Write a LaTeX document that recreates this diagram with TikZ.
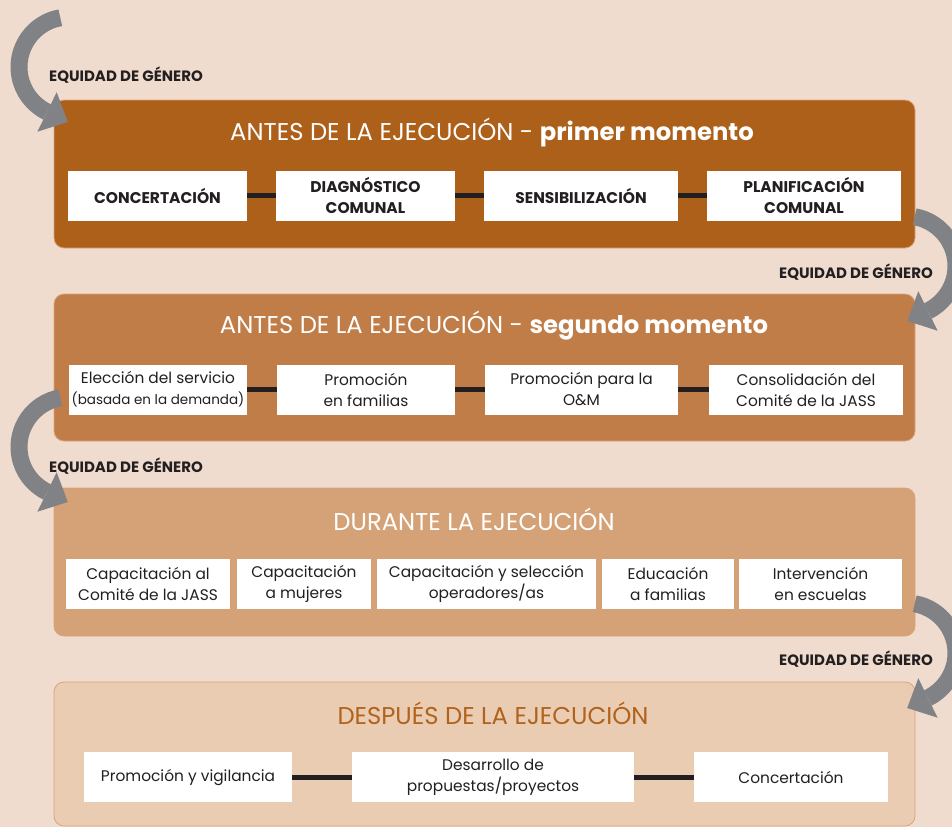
\documentclass[tikz,border=0pt]{standalone}
\usepackage{fontspec}
\setmainfont{Poppins}
\usetikzlibrary{positioning}
\definecolor{bgbeige}{HTML}{EFDCCE}
\definecolor{panelone}{HTML}{AD601A}
\definecolor{paneltwo}{HTML}{C07D48}
\definecolor{panelthree}{HTML}{D4A276}
\definecolor{panelfour}{HTML}{E9CCB2}
\definecolor{paneledge}{HTML}{D9A47C}
\definecolor{arrowgray}{HTML}{808285}
\definecolor{inkdark}{HTML}{231F20}
\definecolor{titlebrown}{HTML}{B1621C}
\tikzset{
  genderarrow/.pic={
    \draw[arrowgray, line width=17pt] (-100:50) arc[start angle=-100, end angle=-244, radius=50];
    \fill[arrowgray] (-12.3,25.2) -- (-31.6,64.7) -- (-1.2,55.0) -- cycle;
  }
}
\begin{document}
\begin{tikzpicture}[x=1pt, y=-1pt,
  panel/.style={draw=paneledge, line width=0.8pt, rounded corners=10pt},
  paneltitle/.style={font=\fontsize{24.3}{28}\selectfont, text=white, inner sep=0pt},
  stepbox/.style={fill=white, inner sep=0pt, align=center, text=inkdark, minimum height=50pt},
  capsbox/.style={stepbox, font=\fontsize{15.5}{21}\selectfont\bfseries},
  textbox/.style={stepbox, font=\fontsize{15.4}{21}\selectfont},
  link/.style={draw=inkdark, line width=5pt},
  genero/.style={font=\fontsize{15}{17}\selectfont\bfseries, text=inkdark, inner sep=0pt}]
\useasboundingbox (0,0) rectangle (952,827);
\fill[bgbeige] (0,0) rectangle (952,827);

\draw[panel, fill=panelone] (54,100) rectangle (915,248);
\draw[panel, fill=paneltwo] (54,294) rectangle (915,441);
\draw[panel, fill=panelthree] (54,488) rectangle (915,636);
\draw[panel, fill=panelfour] (54,682) rectangle (915,826);

\node[paneltitle] (titleone) at (492,132) {ANTES DE LA EJECUCIÓN - \textbf{primer momento}};
\node[capsbox, minimum width=179pt] (concert) at (157.5,195.5) {CONCERTACIÓN};
\node[capsbox, minimum width=179pt] (diagnos) at (365.5,195.5) {DIAGNÓSTICO\\COMUNAL};
\node[capsbox, minimum width=194pt] (sensib) at (581,195.5) {SENSIBILIZACIÓN};
\node[capsbox, minimum width=194pt] (planif) at (804,195.5) {PLANIFICACIÓN\\COMUNAL};
\draw[link] (concert) -- (diagnos);
\draw[link] (diagnos) -- (sensib);
\draw[link] (sensib) -- (planif);

\node[paneltitle] (titletwo) at (494,326) {ANTES DE LA EJECUCIÓN - \textbf{segundo momento}};
\node[textbox, minimum width=178pt] (eleccion) at (158,389.5) {Elección del servicio\\{\fontsize{13.5}{18}\selectfont(basada en la demanda)}};
\node[textbox, minimum width=178pt] (promfam) at (366,389.5) {Promoción\\en familias};
\node[textbox, minimum width=193pt] (promom) at (581.5,389.5) {Promoción para la\\O\&M};
\node[textbox, minimum width=194pt] (consol) at (806,389.5) {Consolidación del\\Comité de la JASS};
\draw[link] (eleccion) -- (promfam);
\draw[link] (promfam) -- (promom);
\draw[link] (promom) -- (consol);

\node[paneltitle] (titlethree) at (474,519) {DURANTE LA EJECUCIÓN};
\node[textbox, minimum width=164pt] (capjass) at (148,583.5) {Capacitación al\\Comité de la JASS};
\node[textbox, minimum width=134pt] (capmuj) at (304,583.5) {Capacitación\\a mujeres};
\node[textbox, minimum width=219pt] (capoper) at (486.5,583.5) {Capacitación y selección\\operadores/as};
\node[textbox, minimum width=132pt] (educfam) at (668,583.5) {Educación\\a familias};
\node[textbox, minimum width=163pt] (interv) at (820.5,583.5) {Intervención\\en escuelas};

\node[paneltitle, text=titlebrown] (titlefour) at (493,713) {DESPUÉS DE LA EJECUCIÓN};
\node[textbox, minimum width=208pt] (vigil) at (188,777) {Promoción y vigilancia};
\node[textbox, minimum width=282pt] (desarr) at (493,777) {Desarrollo de\\propuestas/proyectos};
\node[textbox, minimum width=194pt] (concfin) at (791,777) {Concertación};
\draw[link] (vigil) -- (desarr);
\draw[link] (desarr) -- (concfin);

\pic at (69,67) {genderarrow};
\pic[xscale=-1] at (906,266) {genderarrow};
\pic at (69,447) {genderarrow};
\pic[xscale=-1] at (906,653) {genderarrow};
\node[genero] (generoone) at (126,75) {EQUIDAD DE GÉNERO};
\node[genero] (generotwo) at (856,272) {EQUIDAD DE GÉNERO};
\node[genero] (generothree) at (126,466) {EQUIDAD DE GÉNERO};
\node[genero] (generofour) at (856,659) {EQUIDAD DE GÉNERO};
\end{tikzpicture}
\end{document}
